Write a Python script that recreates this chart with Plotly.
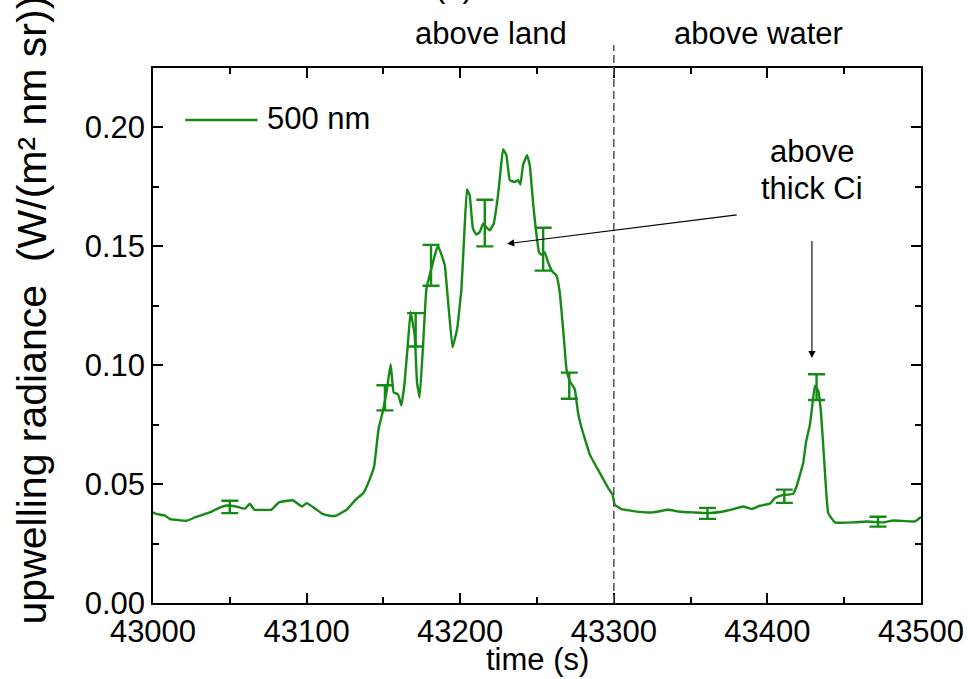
import plotly.graph_objects as go

# Upwelling radiance at 500 nm along the flight track
time_s = [
    43000, 43002, 43008, 43011, 43015, 43022, 43028, 43037, 43043, 43048,
    43054, 43060, 43063, 43066, 43071, 43077, 43082, 43091, 43097, 43100,
    43106, 43110, 43115, 43119, 43126, 43132, 43137, 43141, 43144, 43146,
    43147, 43149.7, 43152, 43154.7, 43156.7, 43159.5, 43161.7, 43163.8, 43166, 43167.7,
    43170.4, 43171.9, 43173.6, 43175.8, 43178, 43181.2, 43184, 43185.6, 43188.4, 43190,
    43192, 43195, 43198, 43200.8, 43202.5, 43204.4, 43206.2, 43208.3, 43210.5, 43212.7,
    43214.9, 43217, 43219.2, 43221.8, 43224.6, 43226.2, 43227.9, 43230.1, 43232.3, 43235.5,
    43237.7, 43239.2, 43240.9, 43243.5, 43245.3, 43247.4, 43249.2, 43251.3, 43252.9, 43255,
    43257.2, 43260, 43262.7, 43264.8, 43267, 43269.2, 43271.3, 43274.6, 43276.7, 43279,
    43284.4, 43290.9, 43296.3, 43299.2, 43300.6, 43305, 43317, 43325.6, 43335.4, 43341.9,
    43351.7, 43361.4, 43371.2, 43377.7, 43384.2, 43389.7, 43395.1, 43401.6, 43404.9, 43409.3,
    43416.8, 43419, 43423.3, 43425.1, 43427.7, 43429.2, 43430.9, 43433.1, 43434.9, 43436.8,
    43439.6, 43444, 43455.9, 43464.6, 43475.4, 43481.9, 43496, 43500,
]
radiance = [
    0.0381, 0.0375, 0.0367, 0.0353, 0.0350, 0.0346, 0.0362, 0.0381, 0.0400, 0.0410,
    0.0406, 0.0397, 0.0418, 0.0392, 0.0392, 0.0392, 0.0423, 0.0432, 0.0406, 0.0420,
    0.0395, 0.0376, 0.0367, 0.0367, 0.0392, 0.0435, 0.0463, 0.0519, 0.0575, 0.0688,
    0.0737, 0.0807, 0.0885, 0.1004, 0.0885, 0.0878, 0.0831, 0.0927, 0.1096, 0.1225,
    0.1124, 0.0927, 0.0864, 0.1081, 0.1321, 0.1405, 0.1475, 0.1503, 0.1454, 0.1419,
    0.1278, 0.1075, 0.1152, 0.1321, 0.1532, 0.1740, 0.1714, 0.1574, 0.1549, 0.1560,
    0.1595, 0.1581, 0.1567, 0.1595, 0.1714, 0.1813, 0.1909, 0.1883, 0.1778, 0.1771,
    0.1778, 0.1760, 0.1841, 0.1883, 0.1841, 0.1686, 0.1574, 0.1475, 0.1464, 0.1475,
    0.1433, 0.1394, 0.1377, 0.1307, 0.1152, 0.0983, 0.0934, 0.0899, 0.0800, 0.0737,
    0.0624, 0.0547, 0.0484, 0.0456, 0.0414, 0.0395, 0.0383, 0.0381, 0.0392, 0.0385,
    0.0381, 0.0378, 0.0385, 0.0395, 0.0406, 0.0395, 0.0409, 0.0418, 0.0442, 0.0453,
    0.0459, 0.0491, 0.0589, 0.0674, 0.0751, 0.0828, 0.0913, 0.0892, 0.0800, 0.0617,
    0.0378, 0.0339, 0.0339, 0.0343, 0.0339, 0.0347, 0.0343, 0.0362,
]

# Uncertainty estimates at selected times
err_time = [43050, 43151, 43171, 43181, 43216, 43254, 43271, 43361, 43411, 43432, 43472]
err_value = [0.0404, 0.0863, 0.1149, 0.1420, 0.1598, 0.1488, 0.0914, 0.0377, 0.0449, 0.0908, 0.0342]
err_size = [0.0026, 0.0053, 0.0070, 0.0086, 0.0098, 0.0090, 0.0055, 0.0023, 0.0028, 0.0054, 0.0021]

x_ticks = [43000, 43100, 43200, 43300, 43400, 43500]
y_ticks = [0.00, 0.05, 0.10, 0.15, 0.20]

GREEN = "#148a14"
FONT = "Liberation Sans, Arial, sans-serif"

fig = go.Figure()

fig.add_trace(go.Scatter(
    x=time_s, y=radiance, mode="lines",
    line=dict(color=GREEN, width=2.4, shape="spline", smoothing=0.3),
    showlegend=False, hoverinfo="x+y",
))

fig.add_trace(go.Scatter(
    x=err_time, y=err_value, mode="markers",
    marker=dict(size=1, color=GREEN, opacity=0),
    error_y=dict(type="data", array=err_size, visible=True,
                 color=GREEN, thickness=2.4, width=8.5),
    showlegend=False, hoverinfo="skip",
))

axis_common = dict(
    showline=True, linecolor="black", linewidth=1.5, mirror="ticks",
    ticks="inside", ticklen=10, tickwidth=1.5, tickcolor="black",
    showgrid=False, zeroline=False, automargin=False,
    tickfont=dict(family=FONT, size=31, color="black"),
)

fig.update_xaxes(
    range=[43000, 43500], tickvals=x_ticks, tickformat="d",
    minor=dict(ticks="inside", ticklen=6, tickwidth=1.5, tickcolor="black", dtick=50),
    **axis_common,
)
fig.update_yaxes(
    range=[0, 0.225], tickvals=y_ticks, tickformat=".2f",
    minor=dict(ticks="inside", ticklen=6, tickwidth=1.5, tickcolor="black", dtick=0.025),
    **axis_common,
)

# Land / water boundary
fig.add_shape(type="line", xref="x", yref="paper", x0=43300, x1=43300, y0=0, y1=1.043,
              line=dict(color="#555555", width=1.5, dash="8px,4px"))

# Legend entry
fig.add_shape(type="line", xref="x", yref="paper", x0=43021, x1=43068, y0=0.9028, y1=0.9028,
              line=dict(color=GREEN, width=2.4))

txt = dict(family=FONT, size=31, color="black")
annotations = [
    dict(text="500 nm", x=43073, y=0.9047, xref="x", yref="paper",
         xanchor="left", yanchor="middle", showarrow=False, font=txt),
    dict(text="above land", x=43220, y=1.0654, xref="x", yref="paper",
         xanchor="center", yanchor="middle", showarrow=False, font=txt),
    dict(text="above water", x=43394, y=1.0654, xref="x", yref="paper",
         xanchor="center", yanchor="middle", showarrow=False, font=txt),
    dict(text="(a)", x=43196, y=1.152, xref="x", yref="paper",
         xanchor="center", yanchor="middle", showarrow=False, font=txt),
    dict(text="above", x=43429, y=0.843, xref="x", yref="paper",
         xanchor="center", yanchor="middle", showarrow=False, font=txt),
    dict(text="thick Ci", x=43429, y=0.7757, xref="x", yref="paper",
         xanchor="center", yanchor="middle", showarrow=False, font=txt),
    dict(text="time (s)", x=0.5, y=-0.1065, xref="paper", yref="paper",
         xanchor="center", yanchor="middle", showarrow=False, font=txt),
    dict(text="upwelling radiance  (W/(m² nm sr))", x=-0.158, y=0.548,
         xref="paper", yref="paper", xanchor="center", yanchor="middle",
         textangle=-90, showarrow=False, font=dict(family=FONT, size=41, color="black")),
    # arrows pointing to the thick cirrus features
    dict(text="", x=43230.5, y=0.1511, ax=43381, ay=0.1633, xref="x", yref="y",
         axref="x", ayref="y", showarrow=True, arrowhead=2, arrowsize=1.3,
         arrowwidth=1.1, arrowcolor="black", standoff=0),
    dict(text="", x=43429, y=0.1030, ax=43429, ay=0.1529, xref="x", yref="y",
         axref="x", ayref="y", showarrow=True, arrowhead=2, arrowsize=1.3,
         arrowwidth=1.1, arrowcolor="black", standoff=0),
]

fig.update_layout(
    width=970, height=679,
    margin=dict(l=153, r=49, t=68, b=76),
    paper_bgcolor="white", plot_bgcolor="white",
    font=dict(family=FONT, color="black"),
    annotations=annotations,
    showlegend=False,
)

fig.write_html("out.html")
